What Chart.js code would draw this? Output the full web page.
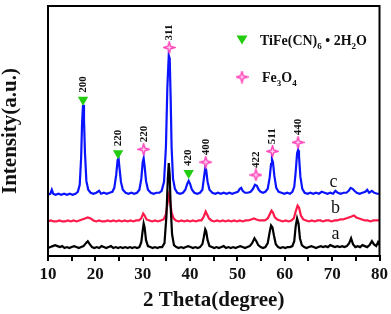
<!DOCTYPE html>
<html>
<head>
<meta charset="utf-8">
<script src="https://cdn.jsdelivr.net/npm/chart.js@4/dist/chart.umd.min.js"></script>
<style>
  html, body { margin: 0; padding: 0; background: #fff; }
  #wrap { width: 391px; height: 314px; }
</style>
</head>
<body>
<div id="wrap"><canvas id="xrd" width="391" height="314"></canvas></div>
<script>
// 2theta / intensity pairs (offset traces, arbitrary units)
const traceC = [
  [10.0,62],[10.5,63],[10.8,67],[11.1,63],[11.6,62],[12.2,63],[12.8,62],[13.4,63],[14.0,62],[14.6,63],
  [15.2,62],[15.8,63],[16.3,65],[16.7,72],[17.0,100],[17.2,135],[17.4,153],[17.6,138],[17.8,105],[18.1,76],
  [18.5,67],[19.0,64],[19.6,63],[20.2,64],[20.8,66],[21.2,63],[21.8,64],[22.4,63],[23.0,64],[23.6,65],
  [24.0,69],[24.4,82],[24.7,97],[24.9,99],[25.1,89],[25.4,75],[25.8,67],[26.4,64],[27.0,63],[27.6,64],
  [28.2,63],[28.8,64],[29.3,67],[29.7,78],[30.0,95],[30.2,99],[30.4,91],[30.7,76],[31.1,67],[31.7,64],
  [32.3,63],[32.9,64],[33.5,64],[34.0,66],[34.5,75],[34.9,110],[35.2,170],[35.5,203],[35.7,200],[35.9,160],
  [36.1,110],[36.4,78],[36.8,68],[37.3,64],[37.9,63],[38.5,64],[39.0,67],[39.4,73],[39.7,76],[40.0,73],
  [40.4,67],[40.9,64],[41.5,63],[42.1,64],[42.6,67],[42.9,78],[43.2,89],[43.4,87],[43.7,75],[44.1,67],
  [44.7,64],[45.3,63],[45.9,64],[46.5,63],[47.1,64],[47.7,63],[48.3,64],[48.9,63],[49.5,64],[50.1,65],
  [50.5,68],[50.8,69],[51.1,66],[51.6,64],[52.2,64],[52.8,65],[53.3,68],[53.7,72],[54.1,71],[54.5,67],
  [54.9,65],[55.4,64],[55.9,65],[56.4,68],[56.8,79],[57.1,93],[57.3,98],[57.5,95],[57.8,81],[58.2,69],
  [58.7,65],[59.3,64],[59.9,63],[60.5,64],[61.1,63],[61.6,65],[62.0,70],[62.3,85],[62.6,104],[62.8,107],
  [63.0,101],[63.3,80],[63.7,68],[64.2,64],[64.8,63],[65.4,64],[66.0,63],[66.6,64],[67.2,63],[67.8,65],
  [68.4,64],[69.0,63],[69.6,64],[70.2,63],[70.7,66],[71.2,64],[71.8,63],[72.4,64],[73.0,64],[73.5,66],
  [73.9,69],[74.3,68],[74.7,66],[75.2,64],[75.8,63],[76.4,64],[77.0,65],[77.4,67],[77.8,64],[78.4,66],
  [78.9,64],[79.5,63],[80.0,63]
];
const traceB = [
  [10.0,35],[10.6,36],[11.2,35],[11.8,35],[12.4,36],[13.0,35],[13.6,35],[14.2,36],[14.8,35],[15.4,36],
  [16.0,35],[16.6,36],[17.2,37],[17.8,38],[18.4,39],[19.0,38],[19.6,36],[20.2,35],[20.8,36],[21.4,35],
  [22.0,35],[22.6,36],[23.2,35],[23.8,36],[24.4,35],[25.0,36],[25.6,35],[26.2,36],[26.8,35],[27.4,36],
  [28.0,35],[28.6,36],[29.2,36],[29.7,38],[30.1,43],[30.4,41],[30.8,37],[31.4,36],[32.0,35],[32.6,36],
  [33.2,35],[33.8,36],[34.4,37],[34.9,42],[35.2,52],[35.5,61],[35.8,55],[36.1,44],[36.5,38],[37.0,36],
  [37.6,35],[38.2,36],[38.8,35],[39.4,36],[40.0,35],[40.6,36],[41.2,35],[41.8,36],[42.4,36],[42.9,40],
  [43.3,45],[43.6,42],[44.0,38],[44.5,36],[45.1,35],[45.7,36],[46.3,35],[46.9,36],[47.5,35],[48.1,36],
  [48.7,35],[49.3,36],[49.9,35],[50.5,36],[51.1,35],[51.7,36],[52.3,36],[52.9,37],[53.5,38],[54.0,37],
  [54.6,36],[55.2,36],[55.8,36],[56.4,38],[56.9,43],[57.2,46],[57.5,44],[57.9,39],[58.4,37],[59.0,36],
  [59.6,35],[60.2,36],[60.8,35],[61.4,36],[61.9,38],[62.3,45],[62.7,51],[63.0,49],[63.4,41],[63.9,37],
  [64.5,36],[65.1,35],[65.7,36],[66.3,35],[66.9,36],[67.5,36],[68.1,35],[68.7,36],[69.3,36],[69.9,35],
  [70.5,36],[71.1,36],[71.7,37],[72.3,37],[72.9,38],[73.5,39],[74.1,40],[74.6,41],[75.1,39],[75.7,38],
  [76.3,37],[76.9,36],[77.5,36],[78.1,35],[78.7,36],[79.3,36],[80.0,36]
];
const traceA = [
  [10.0,8],[10.5,9],[11.0,10],[11.5,11],[12.0,10],[12.5,9],[13.0,10],[13.5,8],[14.0,9],[14.5,8],
  [15.0,9],[15.5,10],[16.0,9],[16.5,8],[17.0,9],[17.5,10],[18.0,13],[18.4,15],[18.8,12],[19.3,9],
  [19.8,8],[20.3,9],[20.8,8],[21.3,10],[21.8,9],[22.3,8],[22.8,9],[23.3,10],[23.8,8],[24.3,9],
  [24.8,8],[25.3,9],[25.8,8],[26.3,9],[26.8,8],[27.3,9],[27.8,8],[28.3,9],[28.8,8],[29.3,9],
  [29.7,14],[30.0,26],[30.2,33],[30.4,29],[30.7,16],[31.1,10],[31.6,9],[32.1,8],[32.6,9],[33.1,8],
  [33.6,9],[34.1,9],[34.6,13],[35.0,40],[35.3,78],[35.5,94],[35.7,82],[35.9,50],[36.2,22],[36.6,11],
  [37.1,9],[37.6,8],[38.1,9],[38.6,8],[39.1,9],[39.6,10],[40.1,9],[40.6,8],[41.1,9],[41.6,8],
  [42.1,9],[42.6,12],[42.9,19],[43.2,27],[43.4,25],[43.7,16],[44.1,10],[44.6,9],[45.1,8],[45.6,9],
  [46.1,8],[46.6,9],[47.1,10],[47.6,8],[48.1,9],[48.6,8],[49.1,9],[49.6,8],[50.1,9],[50.6,10],
  [51.1,9],[51.6,8],[52.1,9],[52.6,10],[53.1,13],[53.6,18],[54.0,15],[54.4,11],[54.9,9],[55.4,8],
  [55.9,9],[56.4,13],[56.8,24],[57.1,31],[57.4,29],[57.7,21],[58.1,12],[58.6,9],[59.1,8],[59.6,9],
  [60.1,8],[60.6,9],[61.1,9],[61.6,10],[62.0,15],[62.3,30],[62.6,38],[62.9,33],[63.2,18],[63.6,11],
  [64.1,9],[64.6,8],[65.1,9],[65.6,10],[66.1,9],[66.6,8],[67.1,9],[67.6,10],[68.1,9],[68.6,10],
  [69.1,9],[69.6,11],[70.1,10],[70.6,9],[71.1,10],[71.6,9],[72.1,10],[72.6,9],[73.1,10],[73.6,13],
  [74.0,18],[74.4,12],[74.9,9],[75.4,10],[75.9,9],[76.4,11],[76.9,10],[77.4,9],[77.9,11],[78.4,15],
  [78.8,12],[79.3,10],[79.7,14],[80.0,11]
];

// phase markers: TiFe(CN)6·2H2O (triangles) and Fe3O4 (stars)
const triX = [17.4, 24.8, 39.7];
const triY = [158, 104, 84];
const triHkl = ["200", "220", "420"];
const starX = [30.2, 35.6, 43.3, 53.9, 57.4, 62.8];
const starY = [108, 211, 95, 82, 106, 115];
const starHkl = ["220", "311", "400", "422", "511", "440"];

// curve names a/b/c
const curveNames = ["c", "b", "a"];
const curveNameX = [70.3, 70.7, 70.7];
const curveNameY = [75, 48, 22];

const xTicks = [10, 20, 30, 40, 50, 60, 70, 80];

const SERIF = '"Liberation Serif", "Times New Roman", serif';

function toPts(arr) {
  return arr.map(p => ({ x: p[0], y: p[1] }));
}

function makeStar(size) {
  const c = document.createElement("canvas");
  c.width = size; c.height = size;
  const g = c.getContext("2d");
  const m = size / 2, r = size / 2 - 0.7, ri = size * 0.14;
  g.beginPath();
  for (let i = 0; i < 8; i++) {
    const a = -Math.PI / 2 + i * Math.PI / 4;
    const rr = i % 2 === 0 ? r : ri;
    g.lineTo(m + rr * Math.cos(a), m + rr * Math.sin(a));
  }
  g.closePath();
  g.fillStyle = "#ffd0ee";
  g.fill();
  g.strokeStyle = "#ff40b8";
  g.lineWidth = 1.3;
  g.stroke();
  return c;
}
const starImg = makeStar(13);

function drawSubText(ctx, x, y, parts, size) {
  let cx = x;
  parts.forEach(([t, sub]) => {
    ctx.font = `bold ${sub ? Math.round(size * 0.62) : size}px ${SERIF}`;
    ctx.fillText(t, cx, sub ? y + size * 0.3 : y);
    cx += ctx.measureText(t).width;
  });
}

const decor = {
  id: "decor",
  afterDatasetsDraw(chart) {
    const { ctx, chartArea: ca, scales } = chart;
    const xs = scales.x, ys = scales.y;
    ctx.save();

    // frame
    ctx.strokeStyle = "#000";
    ctx.lineWidth = 2;
    ctx.strokeRect(ca.left, ca.top, ca.right - ca.left, ca.bottom - ca.top);

    // hkl labels, rotated
    ctx.fillStyle = "#111";
    ctx.font = `bold 11px ${SERIF}`;
    ctx.textAlign = "left";
    ctx.textBaseline = "middle";
    const lab = (xv, yv, t) => {
      ctx.save();
      ctx.translate(xs.getPixelForValue(xv), ys.getPixelForValue(yv) - 7);
      ctx.rotate(-Math.PI / 2);
      ctx.fillText(t, 0, 0);
      ctx.restore();
    };
    triX.forEach((v, i) => lab(v, triY[i], triHkl[i]));
    starX.forEach((v, i) => lab(v, starY[i], starHkl[i]));

    // curve names
    ctx.font = `18px ${SERIF}`;
    ctx.textAlign = "center";
    curveNames.forEach((n, i) => {
      ctx.fillText(n, xs.getPixelForValue(curveNameX[i]), ys.getPixelForValue(curveNameY[i]));
    });

    // legend
    const lx = 242;
    ctx.fillStyle = "#22cc11";
    ctx.beginPath();
    ctx.moveTo(lx - 5.5, 35.5);
    ctx.lineTo(lx + 5.5, 35.5);
    ctx.lineTo(lx, 44.5);
    ctx.closePath();
    ctx.fill();
    ctx.drawImage(starImg, lx - 6.5, 77 - 6.5);

    ctx.fillStyle = "#111";
    ctx.textAlign = "left";
    ctx.textBaseline = "alphabetic";
    drawSubText(ctx, 260, 45, [["TiFe(CN)", false], ["6", true], [" \u2022 2H", false], ["2", true], ["O", false]], 14);
    drawSubText(ctx, 262, 82, [["Fe", false], ["3", true], ["O", false], ["4", true]], 14);

    ctx.restore();
  }
};

new Chart(document.getElementById("xrd"), {
  type: "line",
  data: {
    datasets: [
      {
        type: "scatter",
        data: triX.map((v, i) => ({ x: v, y: triY[i] })),
        pointStyle: "triangle",
        rotation: 180,
        pointRadius: 6,
        backgroundColor: "#22cc11",
        borderColor: "#22cc11",
        borderWidth: 0,
        showLine: false,
        order: 0,
      },
      {
        type: "scatter",
        data: starX.map((v, i) => ({ x: v, y: starY[i] })),
        pointStyle: starImg,
        showLine: false,
        order: 0,
      },
      { data: toPts(traceA), borderColor: "#000000", borderWidth: 2.2, pointRadius: 0, tension: 0, order: 1 },
      { data: toPts(traceB), borderColor: "#ff1a4a", borderWidth: 2.2, pointRadius: 0, tension: 0, order: 2 },
      { data: toPts(traceC), borderColor: "#0a14ff", borderWidth: 2.2, pointRadius: 0, tension: 0, order: 3 },
    ],
  },
  options: {
    responsive: false,
    animation: false,
    layout: { padding: { top: 3, right: 11, left: 0, bottom: 0 } },
    plugins: {
      legend: { display: false },
      tooltip: { enabled: false },
    },
    scales: {
      x: {
        type: "linear",
        min: 10,
        max: 80,
        afterFit: (s) => { s.height = 58; },
        ticks: {
          stepSize: 5,
          autoSkip: false,
          maxRotation: 0,
          padding: 3,
          color: "#111",
          font: { family: SERIF, size: 17, weight: "bold" },
          callback: (v) => (xTicks.includes(v) ? String(v) : ""),
        },
        grid: { drawOnChartArea: false, drawTicks: true, tickLength: 5, color: "#000", lineWidth: 2 },
        border: { display: true, color: "#000", width: 2 },
        title: {
          display: true,
          text: "2 Theta(degree)",
          color: "#111",
          font: { family: SERIF, size: 21, weight: "bold", lineHeight: 1 },
          padding: { top: 0, bottom: 3 },
        },
      },
      y: {
        min: 0,
        max: 253,
        afterFit: (s) => { s.width = 48; },
        ticks: { display: false },
        grid: { display: false },
        border: { display: true, color: "#000", width: 2 },
        title: {
          display: true,
          text: "Intensity(a.u.)",
          color: "#111",
          font: { family: SERIF, size: 21, weight: "bold", lineHeight: 1 },
          padding: { top: 0, bottom: 0 },
        },
      },
    },
  },
  plugins: [decor],
});
</script>
</body>
</html>
